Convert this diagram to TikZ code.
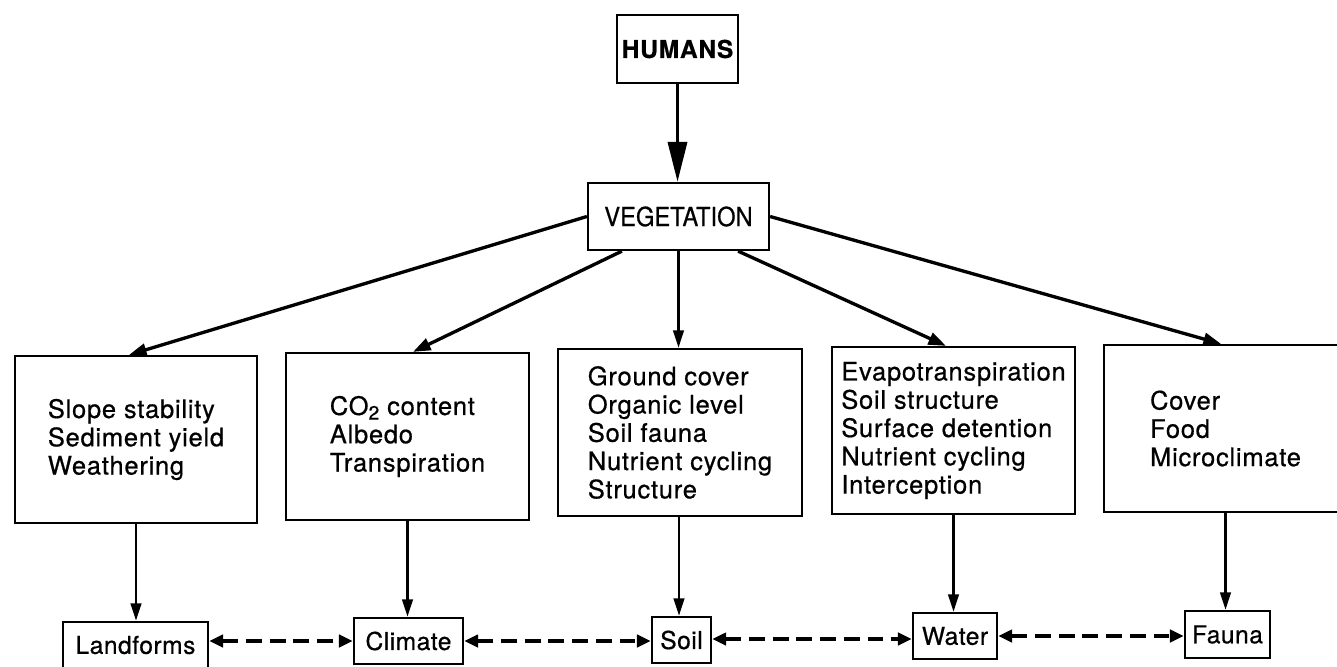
\documentclass[tikz,border=0pt]{standalone}
\usepackage{fontspec}
\newfontfamily\lab[LetterSpace=3,FakeBold=0.6]{TeX Gyre Heros}
\newfontfamily\labb[LetterSpace=2,FakeBold=0.6]{TeX Gyre Heros}
\newfontfamily\labc[FakeStretch=0.9,FakeBold=0.6]{TeX Gyre Heros}
\usetikzlibrary{arrows.meta,calc}
\begin{document}
\begin{tikzpicture}[x=0.02cm,y=-0.02cm,
  box/.style={draw, line width=1.3pt, inner sep=0pt, align=left,
    font=\lab\fontsize{14.5}{16.1}\selectfont},
  lbl/.style={draw, line width=1.3pt, inner sep=0pt,
    font=\labb\fontsize{14}{16}\selectfont},
  solidarrow/.style={line width=1.9pt, -{Triangle[length=10pt,width=7pt]}},
  downarrow/.style={line width=1.5pt, -{Triangle[length=10pt,width=6pt]}},
  bigarrow/.style={line width=2pt, -{Triangle[length=0.8cm,width=0.38cm]}},
  dasharrow/.style={line width=2pt, dash pattern=on 9pt off 4.5pt,
    {Triangle[length=8pt,width=7pt]}-{Triangle[length=8pt,width=7pt]}}
]
\clip (0,0) rectangle (1337,666);
\fill[white] (0,0) rectangle (1337,666);

% top
\node[draw, line width=1.3pt, inner sep=0pt, minimum width=2.42cm, minimum height=1.36cm,
  font=\lab\bfseries\fontsize{14}{16}\selectfont] (hum) at (677.5,49) {HUMANS};
\node[draw, line width=1.3pt, inner sep=0pt, minimum width=3.62cm, minimum height=1.34cm,
  font=\labc\fontsize{15}{17}\selectfont] (veg) at (678.5,216.5) {VEGETATION};

% middle boxes
\node[box, minimum width=4.84cm, minimum height=3.34cm] (b1) at (136,439.5)
  {Slope stability\\Sediment yield\\Weathering};
\node[box, minimum width=4.86cm, minimum height=3.34cm] (b2) at (407.5,436.5)
  {CO\raisebox{-0.35ex}{\fontsize{11}{11}\selectfont 2} content\\Albedo\\Transpiration};
\node[box, minimum width=4.88cm, minimum height=3.34cm] (b3) at (680,432.5)
  {Ground cover\\Organic level\\Soil fauna\\Nutrient cycling\\Structure};
\node[box, minimum width=4.86cm, minimum height=3.34cm] (b4) at (953.5,430.5)
  {Evapotranspiration\\Soil structure\\Surface detention\\Nutrient cycling\\Interception};
\node[box, minimum width=4.86cm, minimum height=3.34cm] (b5) at (1225.5,428.5)
  {Cover\\Food\\Microclimate};

% bottom boxes
\node[lbl, minimum width=2.90cm, minimum height=0.92cm] (lf) at (135.5,645) {Landforms};
\node[lbl, minimum width=2.18cm, minimum height=0.92cm] (cl) at (408.5,641) {Climate};
\node[lbl, minimum width=1.18cm, minimum height=0.92cm] (so) at (681.5,640) {Soil};
\node[lbl, minimum width=1.68cm, minimum height=0.92cm] (wa) at (955,636) {Water};
\node[lbl, minimum width=1.70cm, minimum height=0.94cm] (fa) at (1227.5,634.5) {Fauna};

% connectors
\draw[bigarrow] (hum.south) -- (hum.south |- veg.north);
\draw[solidarrow] (veg.west) -- ($(b1.north)+(-7,0)$);
\draw[solidarrow] ($(veg.south west)+(35,0)$) -- ($(b2.north)+(5.5,0)$);
\draw[downarrow] (veg.south) -- (veg.south |- b3.north);
\draw[solidarrow] ($(veg.south east)+(-32,0)$) -- ($(b4.north)+(-7.5,0)$);
\draw[solidarrow] (veg.east) -- ($(b5.north)+(-4.5,0)$);

\draw[downarrow] (b1.south) -- (b1.south |- lf.north);
\draw[downarrow] (b2.south) -- (b2.south |- cl.north);
\draw[downarrow] ($(b3.south)+(-1,0)$) -- ($(b3.south |- so.north)+(-1,0)$);
\draw[downarrow] (b4.south) -- (b4.south |- wa.north);
\draw[downarrow] (b5.south) -- (b5.south |- fa.north);

\draw[dasharrow] (lf.east |- cl.west) -- (cl.west);
\draw[dasharrow] (cl.east) -- (cl.east -| so.west);
\draw[dasharrow] ($(so.east)+(0,-1)$) -- ($(so.east -| wa.west)+(0,-1)$);
\draw[dasharrow] (wa.east) -- (wa.east -| fa.west);
\end{tikzpicture}
\end{document}
